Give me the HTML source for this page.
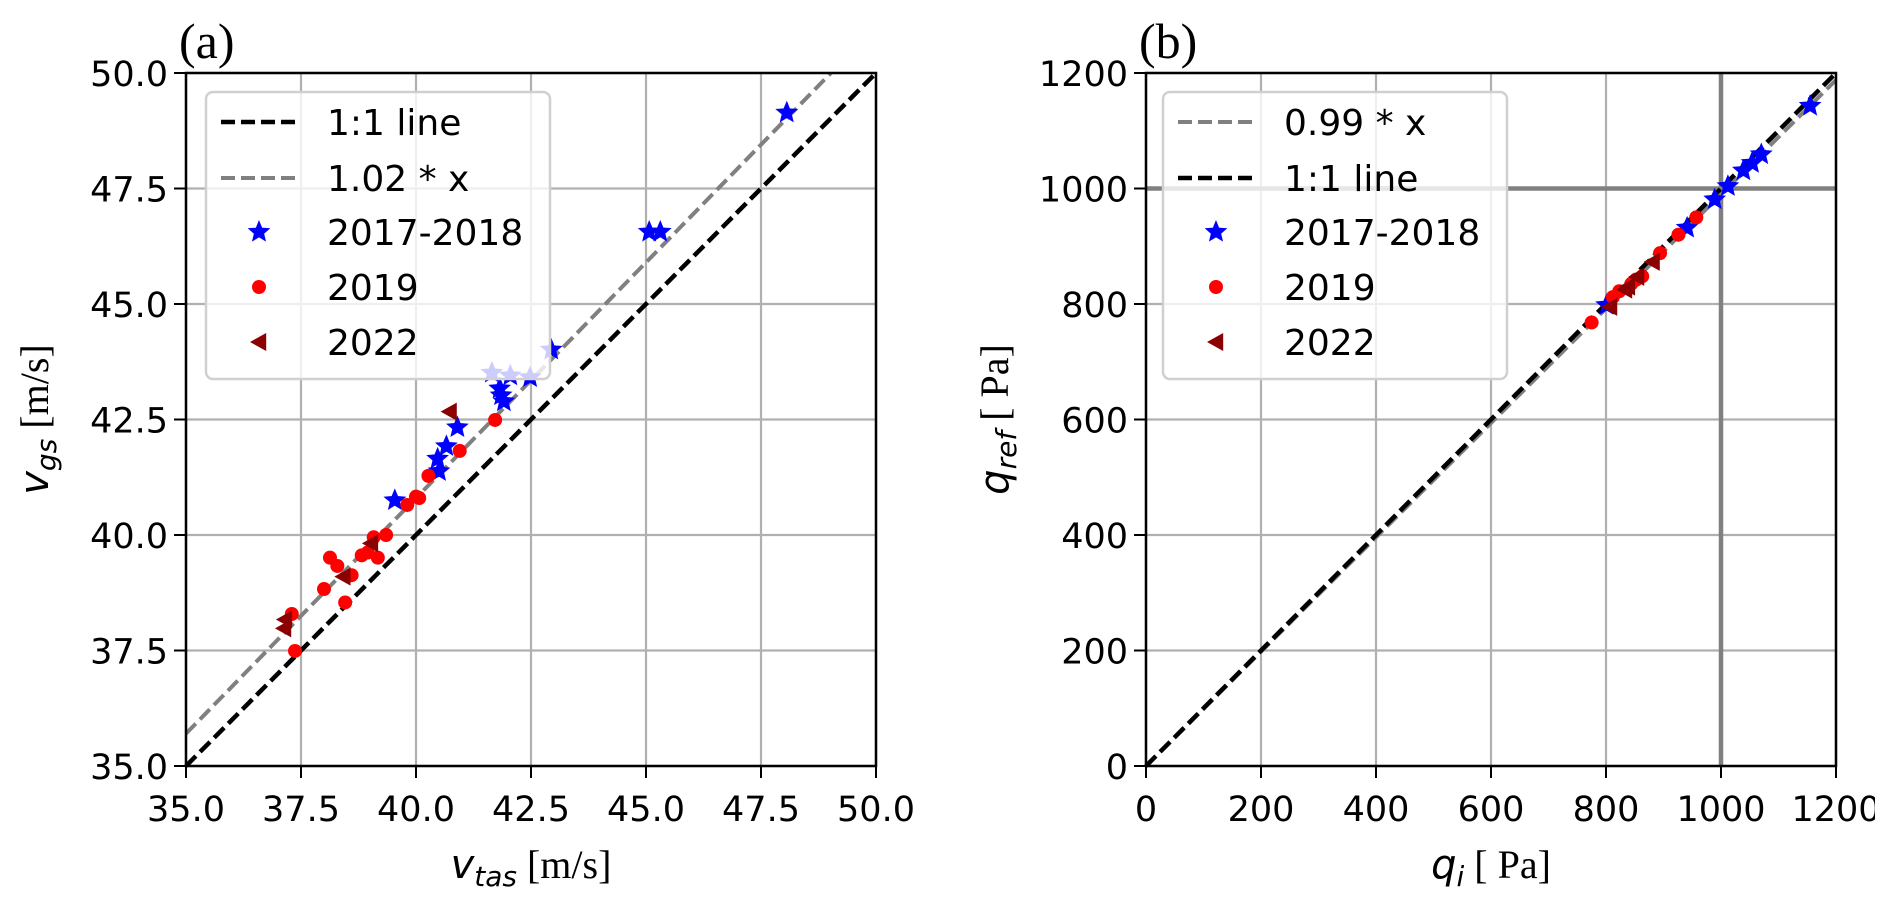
<!DOCTYPE html>
<html><head><meta charset="utf-8">
<style>
html,body{margin:0;padding:0;background:#fff;}
svg{display:block;}
.tick{font-family:"DejaVu Sans","Liberation Sans",sans-serif;font-size:35px;fill:#000;}
.leg{font-family:"DejaVu Sans","Liberation Sans",sans-serif;font-size:36px;fill:#000;}
.ser{font-family:"Liberation Serif",serif;}
</style></head>
<body>
<svg id="fig" width="1892" height="900" viewBox="0 0 1892 900" xmlns="http://www.w3.org/2000/svg"></svg>
<script>
// Panel (a) data
const aStarX = [48.06,45.07,45.31,42.94,41.65,42.05,42.48,41.82,41.85,41.91,40.90,40.66,40.47,40.50,39.54];
const aStarY = [49.14,46.56,46.56,44.01,43.51,43.45,43.41,43.17,43.02,42.89,42.33,41.92,41.65,41.38,40.75];
const aDotX = [41.72,40.95,40.27,40.00,39.81,40.07,39.35,39.08,38.13,38.29,38.82,38.95,39.17,38.60,38.00,38.46,37.30,37.37];
const aDotY = [42.49,41.82,41.28,40.83,40.65,40.80,40.00,39.95,39.51,39.33,39.56,39.62,39.51,39.13,38.83,38.54,38.29,37.49];
const aTriX = [40.73,39.02,38.42,37.15,37.13];
const aTriY = [42.67,39.82,39.10,38.17,37.98];
const aTicks = [35.0,37.5,40.0,42.5,45.0,47.5,50.0];
const aSlope = 1.02;
// Panel (b) data
const bStarX = [1155,1070,1054,1039,1012,989,941,801];
const bStarY = [1143,1059,1044,1031,1004,981,932,798];
const bDotX = [957,926,894,863,852,823,812,775,844];
const bDotY = [950,920,888,848,842,822,812,768,835];
const bTriX = [881,854,833,807,838];
const bTriY = [873,847,825,795,830];
const bTicks = [0,200,400,600,800,1000,1200];
const bSlope = 0.99;

const NS='http://www.w3.org/2000/svg';
const svg=document.getElementById('fig');
function el(tag,attrs,parent){const e=document.createElementNS(NS,tag);for(const k in attrs)e.setAttribute(k,attrs[k]);(parent||svg).appendChild(e);return e;}

function star(g,cx,cy,r,fill){
  let p=[];for(let i=0;i<10;i++){const a=-Math.PI/2+i*Math.PI/5;const rr=i%2?r*0.45:r;p.push((cx+rr*Math.cos(a)).toFixed(1)+','+(cy+rr*Math.sin(a)).toFixed(1));}
  return el('polygon',{points:p.join(' '),fill:fill,stroke:fill,'stroke-width':1.5},g);
}
function tri(g,cx,cy,r,fill){
  return el('polygon',{points:`${cx-r},${cy} ${cx+r*0.8},${cy-r} ${cx+r*0.8},${cy+r}`,fill:fill},g);
}

function panel(cfg){
  const {x0,x1,y0,y1,min,max,ticks,fmt,name}=cfg;
  const sx=v=>x0+(v-min)/(max-min)*(x1-x0);
  const sy=v=>y1-(v-min)/(max-min)*(y1-y0);
  const g=el('g',{});
  
  
  ticks.forEach(t=>{
    const gl=el('line',{x1:sx(t),x2:sx(t),y1:y0,y2:y1,stroke:'#b0b0b0','stroke-width':2.2},g);
    
    
    const gh=el('line',{x1:x0,x2:x1,y1:sy(t),y2:sy(t),stroke:'#b0b0b0','stroke-width':2.2},g);
    
    
  });
  if(cfg.refLine!==undefined){
    const vx=el('line',{x1:sx(cfg.refLine),x2:sx(cfg.refLine),y1:y0,y2:y1,stroke:'#808080','stroke-width':4.5},g);
    
    
    const hy=el('line',{x1:x0,x2:x1,y1:sy(cfg.refLine),y2:sy(cfg.refLine),stroke:'#808080','stroke-width':4.5},g);
    
    
  }
  const drawFit=()=>{
    const xe=Math.min(max,max/cfg.slope);
    const f=el('line',{x1:sx(min),y1:sy(min*cfg.slope),x2:sx(xe),y2:sy(xe*cfg.slope),stroke:'#808080','stroke-width':4,'stroke-dasharray':'14 6'},g);
    
    
  };
  const drawOne=()=>{
    const o=el('line',{x1:sx(min),y1:sy(min),x2:sx(max),y2:sy(max),stroke:'#000','stroke-width':4.5,'stroke-dasharray':'14 6'},g);
    
    
  };
  if(cfg.fitFirst){drawFit();drawOne();}else{drawOne();drawFit();}
  cfg.starX.forEach((v,i)=>{const s=star(g,sx(v),sy(cfg.starY[i]),10,'#0000ff');
    
    });
  cfg.dotX.forEach((v,i)=>{const c=el('circle',{cx:sx(v),cy:sy(cfg.dotY[i]),r:7,fill:'#ff0000'},g);
    
    });
  cfg.triX.forEach((v,i)=>{const t=tri(g,sx(v),sy(cfg.triY[i]),9,'#8b0000');
    
    });
  const sp=el('rect',{x:x0,y:y0,width:x1-x0,height:y1-y0,fill:'none',stroke:'#000','stroke-width':2.5},g);
  
  
  ticks.forEach(t=>{
    el('line',{x1:sx(t),x2:sx(t),y1:y1,y2:y1+12,stroke:'#000','stroke-width':2},g);
    el('line',{x1:x0-12,x2:x0,y1:sy(t),y2:sy(t),stroke:'#000','stroke-width':2},g);
    const xl=el('text',{x:sx(t),y:y1+55,'text-anchor':'middle',class:'tick'},g);xl.textContent=fmt(t);
    
    
    const yl=el('text',{x:x0-18,y:sy(t)+13,'text-anchor':'end',class:'tick'},g);yl.textContent=fmt(t);
    
    
  });
  const lx=cfg.legX, ly=92;
  const lg=el('g',{},g);
  
  
  el('rect',{x:lx,y:ly,width:344,height:287,rx:7,fill:'rgba(255,255,255,0.8)',stroke:'#d0d0d0','stroke-width':2.5},lg);
  const rows=[122,178,232,287,342];
  cfg.legend.forEach((lab,i)=>{
    const yy=rows[i];
    const k=cfg.legKind[i];
    if(k==='black') el('line',{x1:lx+15,x2:lx+91,y1:yy,y2:yy,stroke:'#000','stroke-width':4.5,'stroke-dasharray':'14 6'},lg);
    else if(k==='gray') el('line',{x1:lx+15,x2:lx+91,y1:yy,y2:yy,stroke:'#808080','stroke-width':4,'stroke-dasharray':'14 6'},lg);
    else if(k==='star') star(lg,lx+53,yy,10,'#0000ff');
    else if(k==='dot') el('circle',{cx:lx+53,cy:yy,r:7,fill:'#ff0000'},lg);
    else tri(lg,lx+53,yy,9,'#8b0000');
    const tx=el('text',{x:lx+121,y:yy+13,class:'leg'},lg);tx.textContent=lab;
    
    
  });
  const pl=el('text',{x:x0-7,y:58,class:'ser','font-size':'50px'},g);pl.textContent=cfg.panel;
  
  
  const xl=el('text',{x:(x0+x1)/2,y:878,'text-anchor':'middle','font-size':'40px'},g);
  
  
  xl.innerHTML=cfg.xlab;
  const yl=el('text',{x:0,y:0,'text-anchor':'middle','font-size':'40px',transform:`translate(${x0-138},${(y0+y1)/2}) rotate(-90)`},g);
  
  
  yl.innerHTML=cfg.ylab;
}
const it='font-family="DejaVu Sans,Liberation Sans,sans-serif" font-style="italic"';
const se='font-family="Liberation Serif,serif"';
panel({name:'panel-a',panel:'(a)',x0:186,x1:876,y0:73,y1:766,min:35,max:50,ticks:aTicks,fmt:t=>t.toFixed(1),
  starX:aStarX,starY:aStarY,dotX:aDotX,dotY:aDotY,triX:aTriX,triY:aTriY,slope:aSlope,fitFirst:false,legX:206,
  legend:['1:1 line','1.02 * x','2017-2018','2019','2022'],legKind:['black','gray','star','dot','tri'],
  xlab:`<tspan ${it}>v</tspan><tspan ${it} font-size="28px" dy="8">tas</tspan><tspan ${se} dy="-8"> [m/s]</tspan>`,
  ylab:`<tspan ${it}>v</tspan><tspan ${it} font-size="28px" dy="8">gs</tspan><tspan ${se} dy="-8"> [m/s]</tspan>`});
panel({name:'panel-b',panel:'(b)',x0:1146,x1:1836,y0:73,y1:766,min:0,max:1200,ticks:bTicks,fmt:t=>String(t),refLine:1000,
  starX:bStarX,starY:bStarY,dotX:bDotX,dotY:bDotY,triX:bTriX,triY:bTriY,slope:bSlope,fitFirst:true,legX:1163,
  legend:['0.99 * x','1:1 line','2017-2018','2019','2022'],legKind:['gray','black','star','dot','tri'],
  xlab:`<tspan ${it}>q</tspan><tspan ${it} font-size="28px" dy="8">i</tspan><tspan ${se} dy="-8"> [ Pa]</tspan>`,
  ylab:`<tspan ${it}>q</tspan><tspan ${it} font-size="28px" dy="8">ref</tspan><tspan ${se} dy="-8"> [ Pa]</tspan>`});
const clip=el('rect',{x:1875,y:780,width:17,height:60,fill:'#fff'});


</script>
</body></html>
